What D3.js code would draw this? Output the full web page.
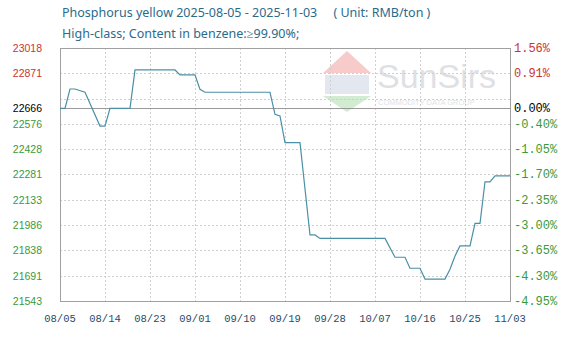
<!DOCTYPE html>
<html>
<head>
<meta charset="utf-8">
<script src="https://cdn.jsdelivr.net/npm/d3@7"></script>
<style>
  body { margin: 0; background: #fff; }
  svg { display: block; }
</style>
</head>
<body>
<svg id="chart" width="577" height="341"></svg>
<script>
// price vertices
var dates = ["2025-08-05","2025-08-06","2025-08-07","2025-08-08","2025-08-10","2025-08-13","2025-08-14",
  "2025-08-15","2025-08-19","2025-08-20","2025-08-28","2025-08-29","2025-09-01","2025-09-02","2025-09-03",
  "2025-09-16","2025-09-17","2025-09-18","2025-09-19","2025-09-22","2025-09-24","2025-09-25","2025-09-26",
  "2025-10-09","2025-10-11","2025-10-13","2025-10-14","2025-10-16","2025-10-17","2025-10-21","2025-10-22",
  "2025-10-23","2025-10-24","2025-10-26","2025-10-27","2025-10-28","2025-10-29","2025-10-30","2025-10-31","2025-11-03"];
var prices = [22666,22666,22779,22779,22760,22563,22563,
  22666,22666,22890,22890,22861,22861,22777,22760,
  22760,22631,22622,22466,22466,21928,21928,21908,
  21908,21798,21798,21734,21734,21671,21671,21728,
  21805,21864,21864,21996,21996,22238,22238,22272,22272];

var baseValue = 22666;
var leftTicks = [23018, 22871, 22666, 22576, 22428, 22281, 22133, 21986, 21838, 21691, 21543];
var rightTicks = ["1.56%","0.91%","0.00%","-0.40%","-1.05%","-1.70%","-2.35%","-3.00%","-3.65%","-4.30%","-4.95%"];
var gridTicks = [22871, 22723, 22576, 22428, 22281, 22133, 21986, 21838, 21691];
var xTicks = ["2025-08-05","2025-08-14","2025-08-23","2025-09-01","2025-09-10","2025-09-19",
  "2025-09-28","2025-10-07","2025-10-16","2025-10-25","2025-11-03"];

var parse = d3.utcParse("%Y-%m-%d");
var fmt = d3.utcFormat("%m/%d");

var svg = d3.select("#chart");
var pLeft = 60, pRight = 510, pTop = 48, pBottom = 301;

var x = d3.scaleUtc().domain([parse(dates[0]), parse(dates[dates.length-1])]).range([pLeft, pRight]);
var y = d3.scaleLinear().domain([21543, 23018]).range([pBottom, pTop]);

function tickColor(v) {
  if (v > baseValue) return "#cc3333";
  if (v < baseValue) return "#3a9a3a";
  return "#000";
}

// title
svg.append("text").attr("x", 62).attr("y", 17)
  .style("font-family", "Noto Sans").style("font-size", "12.5px").attr("fill", "#2a6b8c")
  .attr("xml:space", "preserve")
  .text("Phosphorus yellow 2025-08-05 - 2025-11-03     ( Unit: RMB/ton )");
svg.append("text").attr("x", 62).attr("y", 38)
  .style("font-family", "Noto Sans").style("font-size", "12.5px").attr("fill", "#2a6b8c")
  .text("High-class; Content in benzene:\u226599.90%;");

// watermark
var wm = svg.append("g").attr("opacity", 0.4);
wm.append("path").attr("d", "M347,51 L371,73 L323,73 Z").attr("fill", "#f08080");
wm.append("rect").attr("x", 325).attr("y", 75).attr("width", 44).attr("height", 19).attr("fill", "#b8c4dc");
wm.append("path").attr("d", "M323,96 L371,96 L347,112 Z").attr("fill", "#8fd08f");
wm.append("text").attr("x", 377).attr("y", 88).style("font-family", "Liberation Sans")
  .style("font-size", "34px").attr("fill", "#b0b4bc").text("SunSirs");
wm.append("text").attr("x", 378).attr("y", 105).style("font-family", "Liberation Sans")
  .style("font-size", "7.5px").attr("fill", "#b0b4bc").text("COMMODITY DATA GROUP");

// grid
var grid = svg.append("g");
grid.selectAll(".hg").data(gridTicks).enter().append("line")
  .attr("x1", pLeft).attr("x2", pRight)
  .attr("y1", function(d){ return Math.round(y(d)) + 0.5; })
  .attr("y2", function(d){ return Math.round(y(d)) + 0.5; })
  .attr("stroke", "#cfcfcf").attr("stroke-dasharray", "2,2");
grid.selectAll(".vg").data(xTicks.slice(1, -1)).enter().append("line")
  .attr("y1", pTop).attr("y2", pBottom)
  .attr("x1", function(d){ return Math.round(x(parse(d))) + 0.5; })
  .attr("x2", function(d){ return Math.round(x(parse(d))) + 0.5; })
  .attr("stroke", "#cfcfcf").attr("stroke-dasharray", "2,2");

// base line
svg.append("line").attr("x1", pLeft).attr("x2", pRight)
  .attr("y1", Math.round(y(baseValue)) + 0.5).attr("y2", Math.round(y(baseValue)) + 0.5)
  .attr("stroke", "#999");

// frame
svg.append("rect").attr("x", pLeft + 0.5).attr("y", pTop + 0.5)
  .attr("width", pRight - pLeft).attr("height", pBottom - pTop)
  .attr("fill", "none").attr("stroke", "#a0a0a0");

// left axis labels
svg.selectAll(".lt").data(leftTicks).enter().append("text")
  .attr("x", 42).attr("y", function(d){ return y(d) + 4; })
  .attr("text-anchor", "end")
  .style("font-family", "Liberation Sans").style("font-size", "10.5px")
  .attr("fill", tickColor)
  .text(function(d){ return d; });

// right axis labels
svg.selectAll(".rt").data(rightTicks).enter().append("text")
  .attr("x", 514).attr("y", function(d, i){ return y(leftTicks[i]) + 4; })
  .style("font-family", "Liberation Mono").style("font-size", "12px")
  .attr("fill", function(d, i){ return tickColor(leftTicks[i]); })
  .text(function(d){ return d; });

// x labels
svg.selectAll(".xt").data(xTicks).enter().append("text")
  .attr("x", function(d){ return x(parse(d)); }).attr("y", 322)
  .attr("text-anchor", "middle")
  .style("font-family", "Liberation Mono").style("font-size", "10.5px")
  .attr("fill", "#234d68")
  .text(function(d){ return fmt(parse(d)); });

// price line
var data = dates.map(function(d, i){ return { date: parse(d), value: prices[i] }; });
var line = d3.line().x(function(d){ return x(d.date); }).y(function(d){ return y(d.value); });
svg.append("path").datum(data).attr("d", line)
  .attr("fill", "none").attr("stroke", "#4a8fa6").attr("stroke-width", 1.2);
</script>
</body>
</html>
